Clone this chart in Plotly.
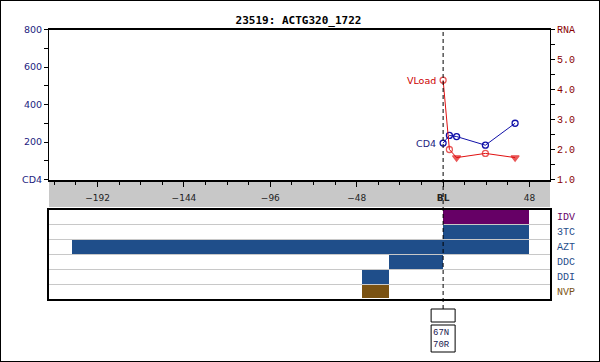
import plotly.graph_objects as go

# ---------------- data ----------------
title_text = "23519: ACTG320_1722"

cd4_weeks = [0, 3.5, 7.5, 23.5, 40]
cd4_values = [194, 235, 229, 183, 300]

vl_weeks = [0, 3.5, 7.5, 23.5, 40]
vl_values = [4.31, 2.0, 1.73, 1.87, 1.73]
vl_below_limit = [False, False, True, False, True]

drugs = ["IDV", "3TC", "AZT", "DDC", "DDI", "NVP"]
drug_start = [0, 0, -206, -30, -45, -45]
drug_end = [48, 48, 48, 0, -30, -30]
drug_colors = ["#660066", "#1f4e8a", "#1f4e8a", "#1f4e8a", "#1f4e8a", "#7a5212"]
drug_label_colors = ["#660066", "#1f4e8a", "#1f4e8a", "#1f4e8a", "#1f4e8a", "#7a5212"]

x_tick_vals = [-192, -144, -96, -48, 0, 48]
x_tick_text = ["\u2212192", "\u2212144", "\u221296", "\u221248", "<b>BL</b>", "48"]
cd4_tick_vals = [0, 200, 400, 600, 800]
cd4_tick_text = ["CD4", "200", "400", "600", "800"]
rna_tick_vals = [1, 2, 3, 4, 5, 6]
rna_tick_text = ["1.0", "2.0", "3.0", "4.0", "5.0", "RNA"]

mutation_week = 0
mutations = ["67N", "70R"]

# ---------------- layout helpers ----------------
W, H = 600, 362
def px(x):
    return x / W
def py(y):
    return 1 - y / H

X_RANGE = [-219, 59.4]
XDOM = [px(49), px(550)]

fig = go.Figure()

fig.add_trace(go.Scatter(
    x=cd4_weeks, y=cd4_values, mode="lines+markers",
    line=dict(color="#1010a8", width=1),
    marker=dict(symbol="circle-open", size=6, color="#1010a8", line=dict(width=1.3)),
    xaxis="x", yaxis="y", showlegend=False, hoverinfo="skip"))

fig.add_trace(go.Scatter(
    x=vl_weeks, y=vl_values, mode="lines+markers",
    line=dict(color="#e01010", width=1),
    marker=dict(symbol=["triangle-down" if b else "circle-open" for b in vl_below_limit],
                size=[7 if b else 6 for b in vl_below_limit],
                color="#e01010", line=dict(width=1.3, color="#e01010")),
    xaxis="x", yaxis="y2", showlegend=False, hoverinfo="skip"))

n = len(drugs)
fig.add_trace(go.Bar(
    orientation="h",
    y=[n - 1 - i for i in range(n)],
    x=[e - s for s, e in zip(drug_start, drug_end)],
    base=drug_start,
    width=0.93,
    marker=dict(color=drug_colors, line=dict(width=0)),
    xaxis="x2", yaxis="y3", showlegend=False, hoverinfo="skip"))

drug_ticktext = ['<span style="color:%s">%s</span>' % (c, d) for d, c in zip(drugs, drug_label_colors)]

fig.update_layout(
    template="none",
    width=W, height=H,
    margin=dict(l=0, r=0, t=0, b=0, autoexpand=False),
    paper_bgcolor="white", plot_bgcolor="white",
    title=dict(text="<b>" + title_text + "</b>", x=px(298.5), y=py(20),
               xref="paper", yref="paper", automargin=False,
               xanchor="center", yanchor="middle",
               font=dict(family="DejaVu Sans Mono", size=11, color="black")),
    xaxis=dict(domain=XDOM, range=X_RANGE, anchor="y", automargin=False,
               tickmode="array", tickvals=x_tick_vals, ticktext=x_tick_text,
               ticks="outside", ticklen=5, tickcolor="black", tickwidth=1,
               minor=dict(tickmode="linear", tick0=0, dtick=12, ticks="outside",
                          ticklen=3, tickcolor="black", showgrid=False),
               ticklabelstandoff=4,
               tickfont=dict(family="DejaVu Sans", size=9, color="#222222"),
               showline=True, linecolor="black", linewidth=2, mirror=True,
               showgrid=False, zeroline=False, fixedrange=True),
    yaxis=dict(domain=[py(179.5), py(29.5)], range=[0, 800], anchor="x", side="left",
               automargin=False,
               tickmode="array", tickvals=cd4_tick_vals, ticktext=cd4_tick_text,
               ticks="outside", ticklen=4, tickcolor="black",
               minor=dict(tickmode="linear", tick0=0, dtick=100, ticks="outside",
                          ticklen=4, tickcolor="black", showgrid=False),
               tickfont=dict(family="DejaVu Sans", size=9.5, color="#1c1c80"),
               showline=True, linecolor="black", linewidth=1,
               showgrid=False, zeroline=False),
    yaxis2=dict(range=[1, 6], overlaying="y", anchor="x", side="right", automargin=False,
                tickmode="array", tickvals=rna_tick_vals, ticktext=rna_tick_text,
                ticks="outside", ticklen=4, tickcolor="black",
                minor=dict(tickmode="linear", tick0=1, dtick=0.5, ticks="outside",
                           ticklen=4, tickcolor="black", showgrid=False),
                tickfont=dict(family="Liberation Mono", size=10, color="#880000"),
                showline=True, linecolor="black", linewidth=1,
                showgrid=False, zeroline=False),
    xaxis2=dict(domain=XDOM, range=X_RANGE, anchor="y3", automargin=False,
                showticklabels=False, ticks="",
                showline=True, linecolor="black", linewidth=2, mirror=True,
                showgrid=False, zeroline=False),
    yaxis3=dict(domain=[py(299), py(209.5)], range=[-0.5, n - 0.5], anchor="x2", side="right",
                automargin=False,
                tickmode="array", tickvals=[n - 1 - i for i in range(n)], ticktext=drug_ticktext,
                ticks="", ticklabelstandoff=3,
                tickfont=dict(family="Liberation Mono", size=10),
                minor=dict(tickmode="array", tickvals=[i + 0.5 for i in range(n - 1)],
                           showgrid=True, gridcolor="#c8c8c8", gridwidth=1, ticks=""),
                showline=True, linecolor="black", linewidth=2, mirror=True,
                showgrid=False, zeroline=False),
    bargap=0,
)

shapes = [
    # grey band behind x tick labels
    dict(type="rect", xref="paper", yref="paper", x0=px(49), x1=px(550),
         y0=py(207), y1=py(181), fillcolor="#c8c8c8", line=dict(width=0), layer="below"),
    # baseline dashed line
    dict(type="line", xref="x", yref="paper", x0=0, x1=0, y0=py(309), y1=py(29.5),
         line=dict(color="black", width=1, dash="4px,3px"), layer="above"),
    # mutation boxes
    dict(type="rect", xref="x2", xsizemode="pixel", xanchor=mutation_week, x0=-12, x1=12,
         yref="paper", y0=py(322), y1=py(309), line=dict(color="black", width=1),
         fillcolor="white"),
    dict(type="rect", xref="x2", xsizemode="pixel", xanchor=mutation_week, x0=-12, x1=12,
         yref="paper", y0=py(352), y1=py(325), line=dict(color="black", width=1),
         fillcolor="white"),
    # outer border
    dict(type="rect", xref="paper", yref="paper", x0=0, x1=1, y0=0, y1=1,
         line=dict(color="black", width=2), fillcolor="rgba(0,0,0,0)"),
]
fig.update_layout(shapes=shapes)

fig.add_annotation(x=vl_weeks[0], y=vl_values[0], xref="x", yref="y2",
                   text="VLoad", showarrow=False, xanchor="right", yanchor="middle",
                   xshift=-5, font=dict(family="DejaVu Sans", size=9.5, color="#cc0000"))
fig.add_annotation(x=cd4_weeks[0], y=cd4_values[0], xref="x", yref="y",
                   text="CD4", showarrow=False, xanchor="right", yanchor="middle",
                   xshift=-5, font=dict(family="DejaVu Sans", size=9.5, color="#1c1c80"))
fig.add_annotation(x=mutation_week, y=py(339), xref="x2", yref="paper",
                   text="<br>".join(mutations), showarrow=False, xanchor="left",
                   yanchor="middle", align="left", xshift=-12,
                   font=dict(family="Liberation Mono", size=9, color="#1a2050"))

fig.write_html(
    "out.html",
    config={"displayModeBar": False, "staticPlot": True},
    post_script="document.body.style.margin='0';document.body.style.padding='0';"
                "document.body.style.overflow='hidden';",
)
